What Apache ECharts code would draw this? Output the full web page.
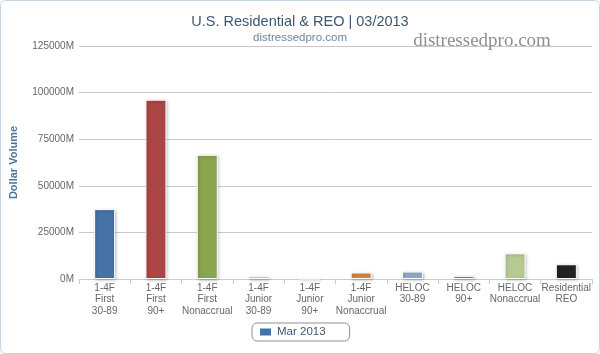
<!DOCTYPE html>
<html>
<head>
<meta charset="utf-8">
<script src="https://cdn.jsdelivr.net/npm/echarts@6/dist/echarts.min.js"></script>
<style>
html,body{margin:0;padding:0;background:#fff;}
#chart{width:600px;height:354px;}
</style>
</head>
<body>
<div id="chart"></div>
<script>
var categories = ['1-4F\nFirst\n30-89','1-4F\nFirst\n90+','1-4F\nFirst\nNonaccrual','1-4F\nJunior\n30-89','1-4F\nJunior\n90+','1-4F\nJunior\nNonaccrual','HELOC\n30-89','HELOC\n90+','HELOC\nNonaccrual','Residential\nREO'];
var values = [37500, 96200, 66600, 1300, 150, 3500, 4000, 1700, 13800, 7900];
var barColors = ['#4572A7','#AA4643','#89A54E','#80699B','#3D96AE','#DB843D','#92A8CD','#A47D7C','#B5CA92','#222222'];
var seriesName = 'Mar 2013';
var yTicks = [0, 25000, 50000, 75000, 100000, 125000];

var chart = echarts.init(document.getElementById('chart'), null, {renderer:'canvas'});
var font = 'Liberation Sans, Arial, sans-serif';
chart.setOption({
  animation:false,
  backgroundColor:'#fff',
  title:[
    {text:'U.S. Residential & REO | 03/2013', left:'center', top:9,
     textStyle:{fontFamily:font, fontSize:14.5, fontWeight:'normal', color:'#3E576F'}},
    {text:'distressedpro.com', left:'center', top:27,
     textStyle:{fontFamily:font, fontSize:11.5, fontWeight:'normal', color:'#6D869F'}}
  ],
  graphic:[
    {type:'rect', shape:{x:0.5,y:0.5,width:599,height:353,r:5}, style:{fill:'none', stroke:'#C6D6E6', lineWidth:1}, z:-1},
    {type:'text', x:482, y:41, style:{text:'distressedpro.com', textAlign:'center', textVerticalAlign:'middle', fontFamily:'Liberation Serif, serif', fontSize:19, fill:'#909090'}, z:10}
  ],
  legend:{
    data:[{name:seriesName, icon:'rect'}],
    left:252, top:323,
    itemWidth:13, itemHeight:9, itemGap:5,
    borderColor:'#909090', borderWidth:1, borderRadius:5,
    padding:[3,24,3,6],
    textStyle:{fontFamily:font, fontSize:11.5, color:'#3E576F'}
  },
  grid:{left:77, right:8, top:46, bottom:75, containLabel:false},
  xAxis:{
    type:'category', data:categories,
    axisLine:{lineStyle:{color:'#C0D0E0'}},
    axisTick:{show:true, length:5, lineStyle:{color:'#C0D0E0'}},
    axisLabel:{interval:0, margin:3, fontFamily:font, fontSize:10, lineHeight:11.5, color:'#666'}
  },
  yAxis:{
    type:'value', min:yTicks[0], max:yTicks[yTicks.length-1], interval:25000,
    name:'Dollar Volume', nameLocation:'middle', nameGap:60,
    nameTextStyle:{fontFamily:font, fontSize:11, fontWeight:'bold', color:'#4D759E'},
    axisLine:{show:false}, axisTick:{show:false},
    axisLabel:{margin:5, fontFamily:font, fontSize:10, color:'#666', formatter:function(v){return v+'M';}},
    splitLine:{lineStyle:{color:'#C8C8C8'}}
  },
  series:[{
    name:seriesName, type:'bar', barWidth:21,
    itemStyle:{color:barColors[0], borderColor:'#fff', borderWidth:1,
      shadowColor:'rgba(0,0,0,0.25)', shadowBlur:3, shadowOffsetX:1, shadowOffsetY:1},
    data:values.map(function(v,i){return {value:v, itemStyle:{color:barColors[i]}};})
  }]
});
</script>
</body>
</html>
